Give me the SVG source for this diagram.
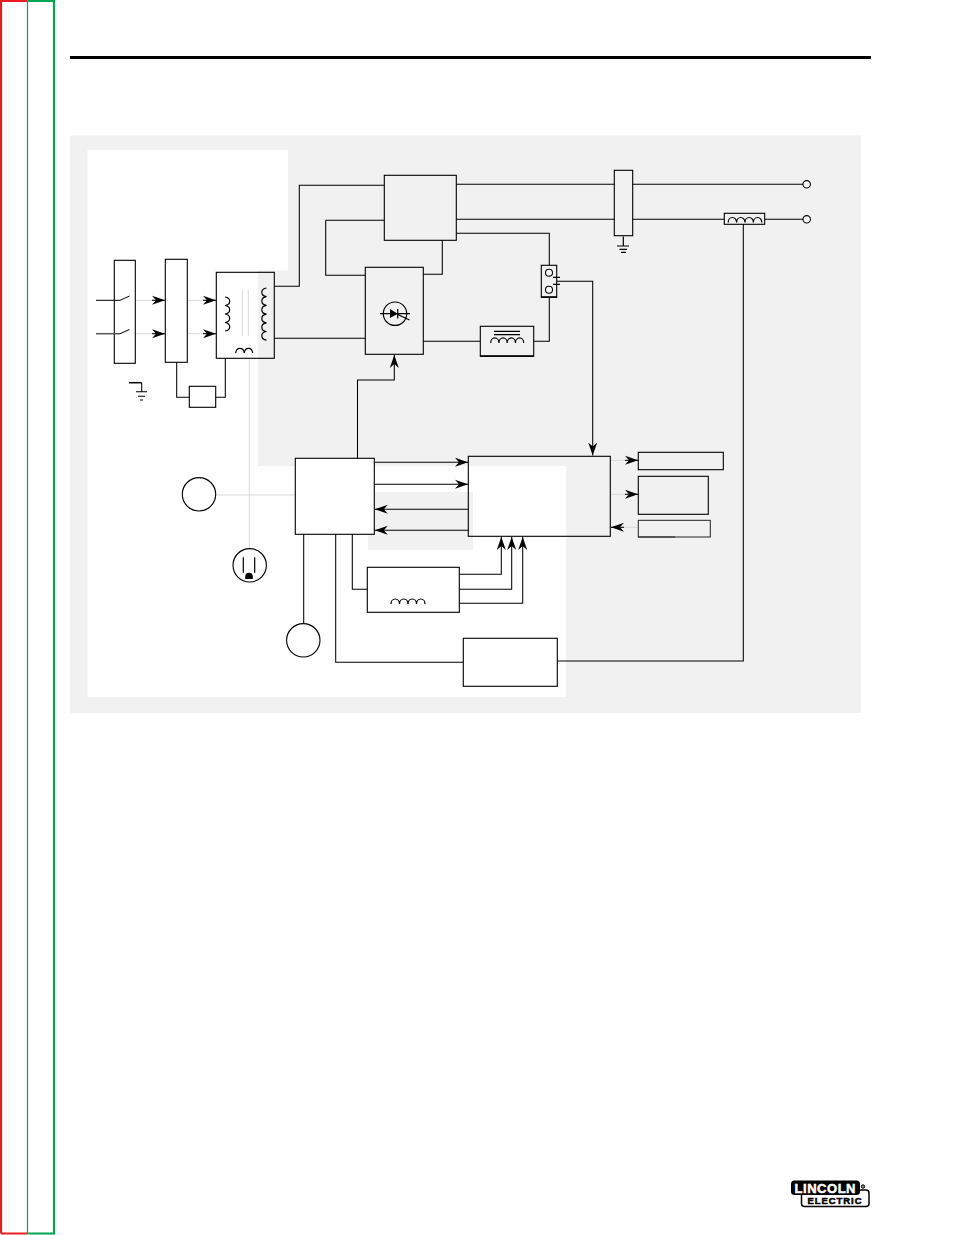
<svg xmlns="http://www.w3.org/2000/svg" width="954" height="1235" viewBox="0 0 954 1235">
<style>
.b{fill:none;stroke:#000;stroke-width:1.100}
.w{fill:#fff;stroke:#000;stroke-width:1.100}
.l{fill:none;stroke:#000;stroke-width:1.050}
.g{fill:none;stroke:#d9d9d9;stroke-width:1}
.c{fill:none;stroke:#000;stroke-width:1.200}
</style>
<defs>
<marker id="a" markerUnits="userSpaceOnUse" markerWidth="15" markerHeight="12" refX="13" refY="5" orient="auto"><path d="M0,0.500L13,5L0,9.500L4,5Z" fill="#000"/></marker>
</defs>
<rect width="954" height="1235" fill="#fff"/>
<g id="page-frame">
<path d="M1,1233.500V1H27.500M1,1233.500H27.500" fill="none" stroke="#ed1c24" stroke-width="2.200"/>
<path d="M27.500,1233.500V1" fill="none" stroke="#00a651" stroke-width="1.200"/>
<path d="M27.500,1H54V1233.500H27.500" fill="none" stroke="#00a651" stroke-width="2.200"/>
<rect x="70" y="56" width="801" height="3" fill="#000"/>
</g>
<g id="background">
<rect x="70" y="135.500" width="791" height="577.500" fill="#f1f1f1"/>
<path d="M87.500,150H288V270.500H258V466H566V697H87.500Z" fill="#fff"/>
<rect x="368" y="492" width="105" height="58" fill="#f1f1f1"/>
</g>
<g id="light-connectors">
<path class="g" d="M131,300.300H155M131,333.700H155M187,300.300H206M187,333.700H206"/>
<path class="g" d="M249.300,358V549M216,495H295"/>
<path class="g" d="M611,460.300H626M611,494.300H626M622,527.300H638"/>
<path class="g" d="M242.300,290V336M248.300,290V336"/>
</g>
<g id="connectors">
<path class="l" d="M176.700,362V397.300H189.300M215.700,397.300H225.300V358"/>
<path class="l" d="M274.300,286.300H299.300V185.300H384.300M274.300,338.300H365.300M325.700,220.300V275.300H365.300M325.700,220.300H384.300"/>
<path class="l" d="M423.300,274.300H442.300V240.300"/>
<path class="l" d="M456.300,184.300H614.300M456.300,219.300H614.300M632.700,184.300H803M632.700,219.300H724.300M764.700,219.300H803"/>
<path class="l" d="M456.300,233.300H549.300V265.300M423.300,341.300H480.300M533.700,341.300H549.300V297.300"/>
<path class="l" d="M743.300,224.300V661H557.300"/>
<path class="l" d="M303.700,534.300V623.700M335.700,534.300V662.300H463.300M352.300,534.300V589.300H367.300"/>
<path class="l" d="M459.300,574.300H501.300V537" marker-end="url(#a)"/>
<path class="l" d="M459.300,589.300H511.700V537" marker-end="url(#a)"/>
<path class="l" d="M459.300,603.300H522.700V537" marker-end="url(#a)"/>
<path class="l" d="M357.500,458.300V380H394.300V355" marker-end="url(#a)"/>
<path class="l" d="M557,281.300H592.700V455.500" marker-end="url(#a)"/>
<path class="l" d="M374.300,462.300H468" marker-end="url(#a)"/>
<path class="l" d="M374.300,484.300H468" marker-end="url(#a)"/>
<path class="l" d="M468.300,509.300H374.800" marker-end="url(#a)"/>
<path class="l" d="M468.300,530.300H374.800" marker-end="url(#a)"/>
<path class="l" d="M152,300.300H165" marker-end="url(#a)"/>
<path class="l" d="M152,333.700H165" marker-end="url(#a)"/>
<path class="l" d="M203,300.300H216" marker-end="url(#a)"/>
<path class="l" d="M203,333.700H216" marker-end="url(#a)"/>
<path class="l" d="M625,460.300H638" marker-end="url(#a)"/>
<path class="l" d="M625,494.300H638" marker-end="url(#a)"/>
<path class="l" d="M624,527.300H611" marker-end="url(#a)"/>
</g>
<g id="switch-box">
<rect class="w" x="114.300" y="260.300" width="21" height="103"/>
<path d="M96,300.300H120L129.500,296" fill="none" stroke="#000"/>
<path d="M96,333.700H120" fill="none" stroke="#555" stroke-width="1.500"/>
<path d="M120,333.700L129.500,329.500" fill="none" stroke="#000"/>
</g>
<g id="rectifier-box"><rect class="w" x="165.300" y="259.300" width="22" height="103"/></g>
<g id="ground-left">
<path d="M129,382.700H141.700" stroke="#000" stroke-width="1.500" fill="none"/>
<path class="l" d="M141.700,382.700V391.700M136,391.700H147M138,396.300H145M140,400H143"/>
</g>
<g id="fuse-box"><rect class="w" x="189.300" y="386.300" width="26.400" height="21"/></g>
<g id="transformer">
<rect class="b" x="216.300" y="272.300" width="58" height="86"/>
<path class="c" d="M225,297a5.500,4.300 0 0 1 0,8.500a5.500,4.300 0 0 1 0,8.500a5.500,4.300 0 0 1 0,8.500a5.500,4.300 0 0 1 0,8.500"/>
<path class="c" d="M266.500,288a5.500,4.400 0 0 0 0,8.700a5.500,4.400 0 0 0 0,8.700a5.500,4.400 0 0 0 0,8.700a5.500,4.400 0 0 0 0,8.700a5.500,4.400 0 0 0 0,8.700a5.500,4.400 0 0 0 0,8.700"/>
<path class="c" d="M235.700,353a4.300,5.500 0 0 1 8.500,0a4.300,5.500 0 0 1 8.500,0"/>
</g>
<g id="top-box"><rect class="b" x="384.300" y="175.300" width="72" height="65"/></g>
<g id="scr-box">
<rect class="b" x="365.300" y="267.300" width="58" height="87"/>
<circle class="c" cx="395" cy="313.700" r="11.700"/>
<path class="c" d="M380,313.700H410M397.700,309V318.500M397.700,314.500L409.500,320"/>
<path d="M390,309L397.700,313.700L390,318Z" fill="#000"/>
</g>
<g id="choke">
<rect class="b" x="480.300" y="326.300" width="53.400" height="30"/>
<path d="M480,356H534" stroke="#000" stroke-width="1.500" fill="none"/>
<path class="c" d="M494,331.300H520M494,334.700H520"/>
<path class="c" d="M490.700,343a4.100,5 0 0 1 8.250,0a4.100,5 0 0 1 8.250,0a4.100,5 0 0 1 8.250,0a4.100,5 0 0 1 8.250,0"/>
</g>
<g id="thermal-switch">
<rect class="b" x="541.300" y="265.300" width="15.400" height="32"/>
<path d="M541,297H557" stroke="#000" stroke-width="1.500" fill="none"/>
<circle class="w" cx="549" cy="272.700" r="3.500"/>
<circle class="w" cx="549" cy="289.700" r="3.500"/>
<path class="c" d="M553,277.300H560M553,284.300H560"/>
</g>
<g id="output-box">
<rect class="b" x="614.300" y="170.300" width="18.400" height="65.400"/>
<path class="c" d="M623.300,236.500V246M617,246H629M619.500,249.300H627M621,252.300H626"/>
</g>
<g id="shunt">
<rect class="b" x="724.300" y="213.300" width="40.400" height="11"/>
<path class="c" d="M728.200,222.500a4.200,5 0 0 1 8.400,0a4.200,5 0 0 1 8.400,0a4.200,5 0 0 1 8.400,0a4.200,5 0 0 1 8.400,0"/>
</g>
<g id="terminal-pos"><circle class="w" cx="806.700" cy="184.300" r="3.700"/></g>
<g id="terminal-neg"><circle class="w" cx="806.700" cy="219.300" r="3.700"/></g>
<g id="control-box"><rect class="w" x="295.300" y="458.300" width="79" height="76"/></g>
<g id="main-board"><rect class="b" x="468.300" y="456.300" width="142" height="80"/></g>
<g id="display-top"><rect class="b" x="638.300" y="452.300" width="85" height="17.400"/></g>
<g id="display-mid"><rect class="b" x="638.300" y="476.300" width="70" height="38"/></g>
<g id="display-low">
<rect x="638.300" y="520.300" width="72" height="16.700" fill="none" stroke="#222" stroke-width="1"/>
<path d="M638.300,537H675" stroke="#222" stroke-width="1.200" fill="none"/>
</g>
<g id="meter-left"><circle class="b" cx="199" cy="494.300" r="16.700"/></g>
<g id="outlet">
<circle class="b" cx="249.700" cy="565.300" r="16.700"/>
<path class="c" d="M243.300,557.300V572.700M254.700,557.300V572.700"/>
<path d="M245.200,579V576.500a3.800,3.800 0 0 1 7.600,0V579Z" fill="#000"/>
</g>
<g id="meter-bottom"><circle class="b" cx="303.300" cy="640.300" r="16.700"/></g>
<g id="aux-box">
<rect class="b" x="367.300" y="567.300" width="92" height="45"/>
<path class="c" d="M391,604a4.250,5 0 0 1 8.500,0a4.250,5 0 0 1 8.500,0a4.250,5 0 0 1 8.500,0a4.250,5 0 0 1 8.500,0"/>
</g>
<g id="feedback-box"><rect class="b" x="463.300" y="638.300" width="94" height="48"/></g>
<g id="logo">
<rect x="801.500" y="1190" width="67.500" height="16.500" rx="3" fill="#fff" stroke="#000" stroke-width="1.500"/>
<rect x="791" y="1180.500" width="69" height="14.500" rx="3.500" fill="#000"/>
<text x="794.500" y="1192.800" font-family="'Liberation Sans',Arial,sans-serif" font-size="13" font-weight="700" fill="#fff" stroke="#fff" stroke-width=".5" textLength="61" lengthAdjust="spacing">LINCOLN</text>
<text x="807.500" y="1203.500" font-family="'Liberation Sans',Arial,sans-serif" font-size="9.500" font-weight="700" fill="#000" stroke="#000" stroke-width=".5" textLength="54" lengthAdjust="spacing">ELECTRIC</text>
<circle cx="863" cy="1186.500" r="1.700" fill="#888" stroke="#000" stroke-width="1"/>
</g>
</svg>
